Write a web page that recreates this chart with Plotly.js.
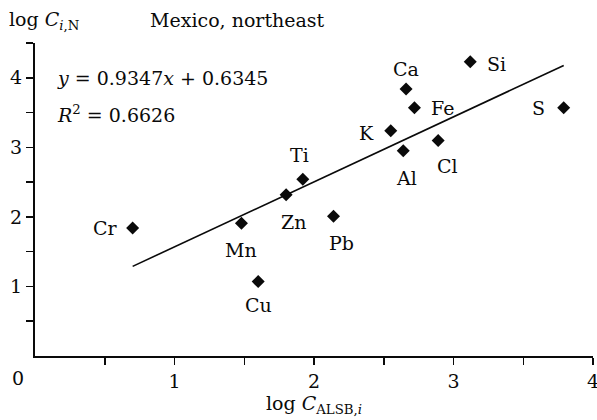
<!DOCTYPE html>
<html><head><meta charset="utf-8">
<script src="https://cdn.plot.ly/plotly-3.0.1.min.js"></script>
<style>html,body{margin:0;padding:0;background:#fff}</style>
</head><body><div id="chart" style="width:597px;height:420px"></div>
<script>
const elements = ['Cr','Mn','Cu','Zn','Ti','Pb','K','Al','Ca','Fe','Cl','Si','S'];
const logALSB = [0.70,1.48,1.60,1.80,1.92,2.14,2.55,2.64,2.66,2.72,2.89,3.12,3.79];
const logCN   = [1.84,1.91,1.07,2.32,2.54,2.01,3.24,2.95,3.84,3.57,3.10,4.23,3.57];
const slope = 0.9347, intercept = 0.6345, r2 = 0.6626;
const xTicks = [1,2,3,4];
const xTickText = ['1','2','3','4'];
const xMinorTicks = [0.5,1.5,2.5,3.5];
const yTicks = [1,2,3,4];
const yTickText = ['1','2','3','4'];
const yMinorTicks = [0.5,1.5,2.5,3.5,4.5];

// label placement (pixel offsets), kept separate from data
const labelPos = {
  Cr:[-27,0], Mn:[0,-27], Cu:[0,-23], Zn:[7,-27], Ti:[-3,24], Pb:[8,-27],
  K:[-24,-2], Al:[3,-27], Ca:[0,20], Fe:[28,0], Cl:[9,-26], Si:[26,-2], S:[-25,0]
};

const FONT = 'DejaVu Serif, Liberation Serif, serif';
const FS = 19;
const INK = '#0a0a0a';
const xmin = Math.min(...logALSB), xmax = Math.max(...logALSB);

const traces = [
  {x:[xmin,xmax], y:[slope*xmin+intercept, slope*xmax+intercept], mode:'lines',
   line:{color:INK,width:1.6}, hoverinfo:'skip'},
  {x:logALSB, y:logCN, mode:'markers', text:elements,
   marker:{symbol:'diamond', size:10, color:INK}}
];

const ann = elements.map((e,i)=>({
  x:logALSB[i], y:logCN[i], xref:'x', yref:'y', text:e, showarrow:false,
  xshift:labelPos[e][0], yshift:labelPos[e][1],
  font:{family:FONT,size:FS,color:INK}
}));
ann.push(
  {xref:'paper',yref:'paper',x:-0.05,y:1.073,xanchor:'left',yanchor:'middle',showarrow:false,
   text:'log <i>C</i><sub><i>i</i>,N</sub>', font:{family:FONT,size:FS,color:INK}},
  {xref:'paper',yref:'paper',x:0.202,y:1.073,xanchor:'left',yanchor:'middle',showarrow:false,
   text:'Mexico, northeast', font:{family:FONT,size:FS,color:INK}},
  {xref:'paper',yref:'y',x:0.035,y:4.0,xanchor:'left',yanchor:'middle',showarrow:false,
   text:'<i>y</i> = '+slope.toFixed(4)+'<i>x</i> + '+intercept.toFixed(4), font:{family:FONT,size:FS,color:INK}},
  {xref:'paper',yref:'y',x:0.035,y:3.48,xanchor:'left',yanchor:'middle',showarrow:false,
   text:'<i>R</i><sup>2</sup> = '+r2.toFixed(4), font:{family:FONT,size:FS,color:INK}},
  {xref:'paper',yref:'paper',x:-0.03,y:-0.07,xanchor:'center',yanchor:'middle',showarrow:false,
   text:'0', font:{family:FONT,size:FS,color:INK}}
);

const axisCommon = {
  ticks:'outside', ticklen:7, tickwidth:1.5, tickcolor:INK,
  showline:true, linewidth:2, linecolor:INK, showgrid:false, zeroline:false,
  tickfont:{family:FONT,size:FS,color:INK}, ticklabeloverflow:'allow'
};

const layout = {
  width:597, height:420, showlegend:false,
  margin:{l:35,r:4,t:43,b:64},
  paper_bgcolor:'#fff', plot_bgcolor:'#fff',
  font:{family:FONT,size:FS,color:INK},
  xaxis:Object.assign({}, axisCommon, {range:[0,4], tickvals:xTicks, ticktext:xTickText,
    minor:{tickvals:xMinorTicks, ticks:'outside', ticklen:7, tickwidth:1.5, tickcolor:INK, showgrid:false},
    title:{text:'log <i>C</i><sub>ALSB,<i>i</i></sub>', standoff:4, font:{family:FONT,size:FS,color:INK}}}),
  yaxis:Object.assign({}, axisCommon, {range:[0,4.5], tickvals:yTicks, ticktext:yTickText,
    minor:{tickvals:yMinorTicks, ticks:'outside', ticklen:7, tickwidth:1.5, tickcolor:INK, showgrid:false}}),
  annotations:ann
};
Plotly.newPlot('chart', traces, layout, {displayModeBar:false, staticPlot:true});
</script></body></html>
